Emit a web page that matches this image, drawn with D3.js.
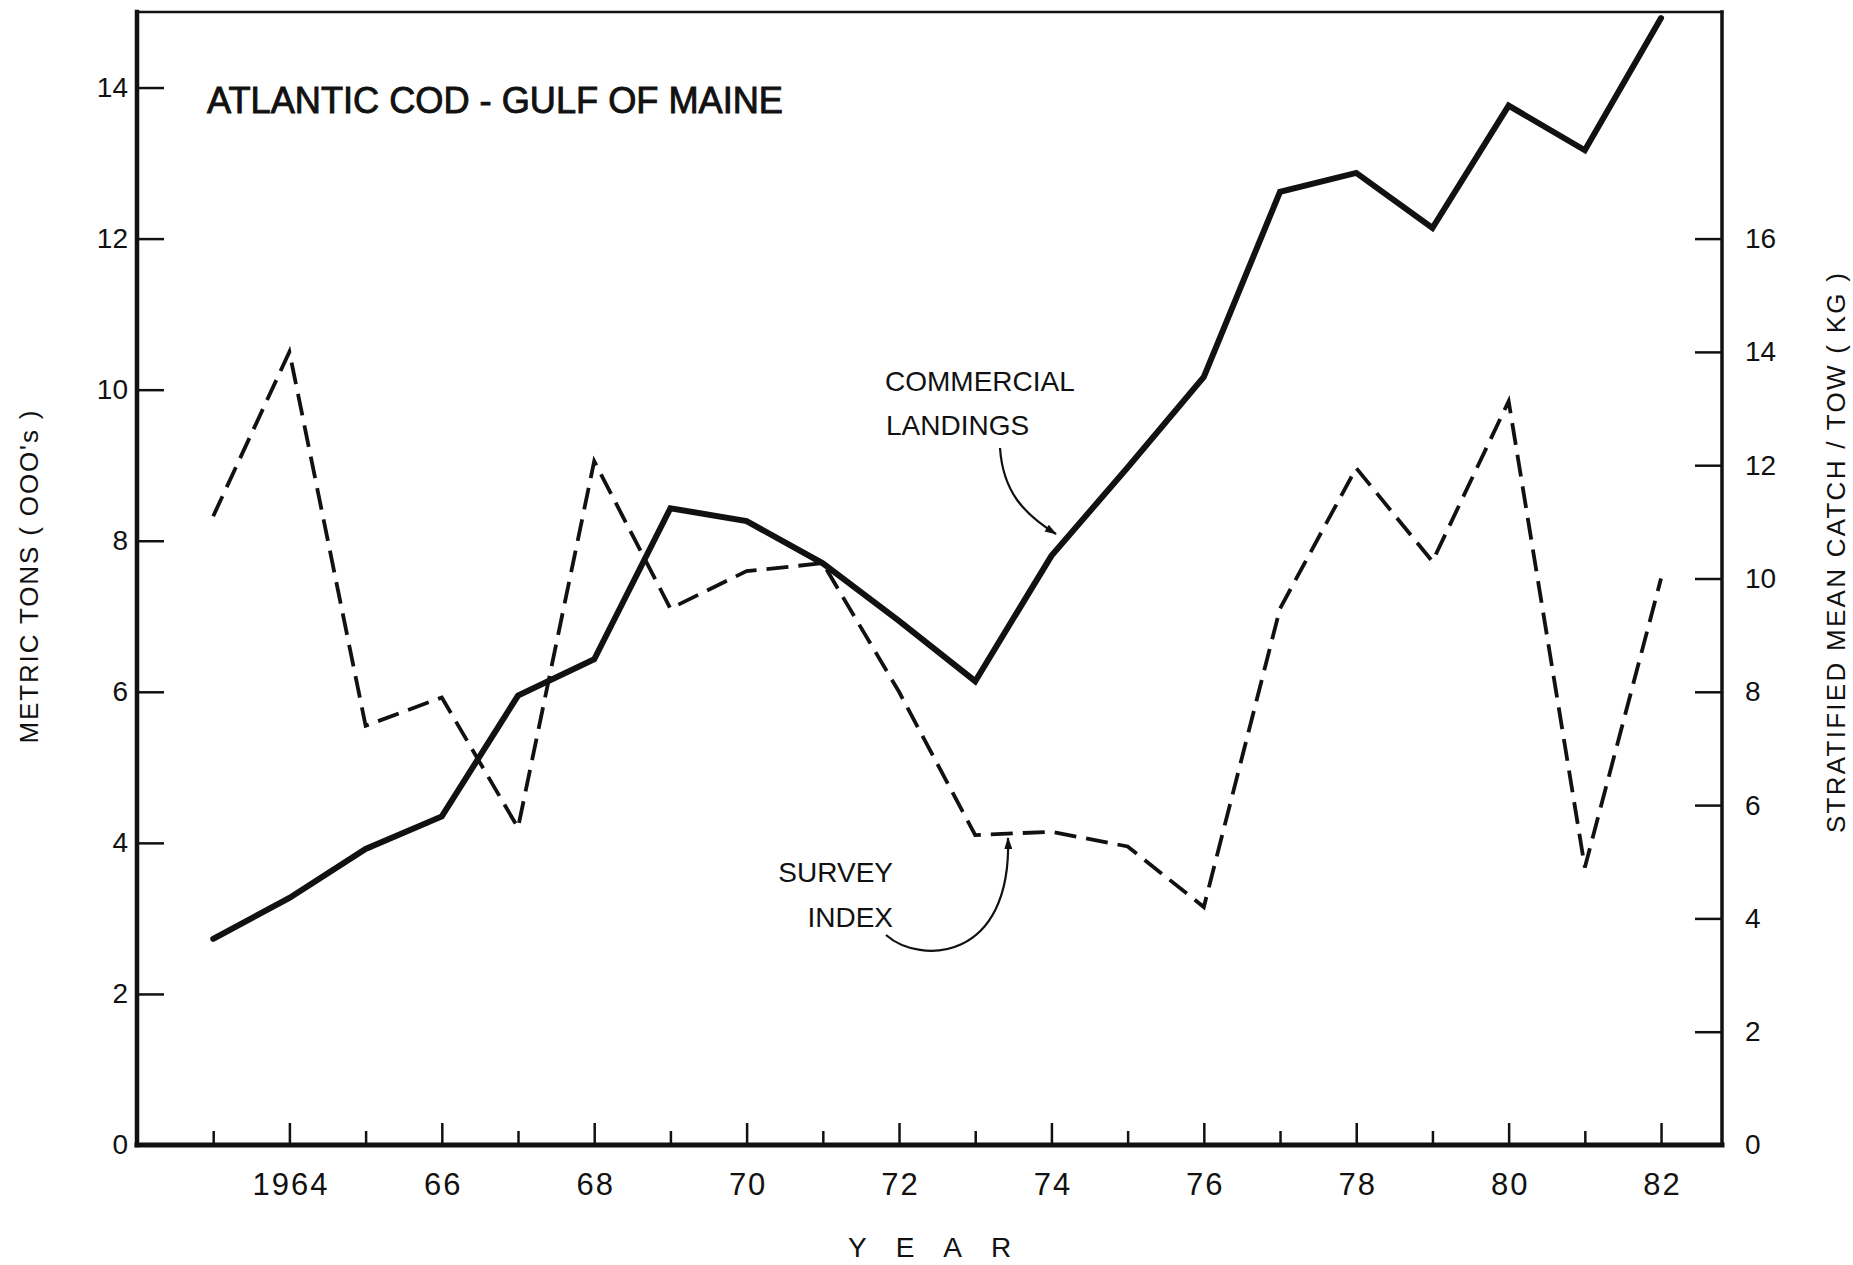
<!DOCTYPE html>
<html><head><meta charset="utf-8">
<script src="https://cdn.jsdelivr.net/npm/d3@7/dist/d3.min.js"></script>
<style>
html,body{margin:0;padding:0;background:#fff;}
svg{display:block;}
text{font-family:"Liberation Sans", Arial, sans-serif; fill:#111;}
</style></head><body>
<svg id="chart" width="1853" height="1265"></svg>
<script>
// ---- data ----
const years    = [1963,1964,1965,1966,1967,1968,1969,1970,1971,1972,1973,1974,1975,1976,1977,1978,1979,1980,1981,1982];
const landings = [2.73,3.27,3.92,4.35,5.95,6.43,8.43,8.26,7.70,6.94,6.14,7.80,8.97,10.17,12.62,12.87,12.14,13.76,13.17,14.92]; // metric tons (000's)
const survey   = [11.1,14.0,7.4,7.9,5.6,12.07,9.47,10.13,10.27,8.0,5.47,5.53,5.27,4.2,9.47,11.95,10.3,13.13,4.9,10.0]; // kg per tow
const leftTicks  = [0,2,4,6,8,10,12,14];
const rightTicks = [0,2,4,6,8,10,12,14,16];
const majorYears = [1964,1966,1968,1970,1972,1974,1976,1978,1980,1982];
const yearLabels = ["1964","66","68","70","72","74","76","78","80","82"];
const minorYears = [1963,1965,1967,1969,1971,1973,1975,1977,1979,1981];

const svg = d3.select("#chart");
const ink = "#111";

const x  = d3.scaleLinear().domain([1962, 1982.8]).range([137, 1722]);
const yL = d3.scaleLinear().domain([0, 15]).range([1145, 12]);
const yR = d3.scaleLinear().domain([0, 20]).range([1145, 12]);

const [x0, x1] = x.range();
const [yb, yt] = yL.range();

// frame
const frame = svg.append("g").attr("stroke", ink).attr("fill", "none").attr("stroke-linecap","square");
frame.append("line").attr("x1", x0).attr("x2", x1).attr("y1", yt).attr("y2", yt).attr("stroke-width", 2.5);
frame.append("line").attr("x1", x0).attr("x2", x0).attr("y1", yt).attr("y2", yb).attr("stroke-width", 4.5);
frame.append("line").attr("x1", x1).attr("x2", x1).attr("y1", yt).attr("y2", yb).attr("stroke-width", 3.5);
frame.append("line").attr("x1", x0).attr("x2", x1).attr("y1", yb).attr("y2", yb).attr("stroke-width", 5);

function styleAxis(g, fs) {
  g.select(".domain").remove();
  g.selectAll(".tick line").attr("stroke", ink).attr("stroke-width", 2.5);
  g.selectAll(".tick text").attr("fill", ink).style("font-size", fs + "px")
    .style("font-family", '"Liberation Sans", Arial, sans-serif');
}

// bottom axis: minor ticks
svg.append("g").attr("transform", `translate(0,${yb})`)
  .call(d3.axisBottom(x).tickValues(minorYears).tickSize(-14).tickFormat(""))
  .call(g => styleAxis(g, 30));
// bottom axis: major ticks + labels
svg.append("g").attr("transform", `translate(0,${yb})`)
  .call(d3.axisBottom(x).tickValues(majorYears).tickSize(-22).tickPadding(28)
        .tickFormat(d => yearLabels[majorYears.indexOf(d)]))
  .call(g => styleAxis(g, 31))
  .call(g => g.selectAll(".tick text").style("letter-spacing", "2px").attr("dx", "1px"));

// left axis
svg.append("g").attr("transform", `translate(${x0},0)`)
  .call(d3.axisLeft(yL).tickValues(leftTicks).tickSize(-27).tickPadding(9))
  .call(g => styleAxis(g, 28));
// right axis
svg.append("g").attr("transform", `translate(${x1},0)`)
  .call(d3.axisRight(yR).tickValues(rightTicks).tickSize(-27).tickPadding(23))
  .call(g => styleAxis(g, 28));

// series
const landData = years.map((yr, i) => ({ yr, v: landings[i] }));
const survData = years.map((yr, i) => ({ yr, v: survey[i] }));

svg.append("path").datum(survData)
  .attr("fill", "none").attr("stroke", ink).attr("stroke-width", 3.8)
  .attr("stroke-dasharray", "22 10").attr("stroke-linejoin", "miter")
  .attr("d", d3.line().x(d => x(d.yr)).y(d => yR(d.v)));

svg.append("path").datum(landData)
  .attr("fill", "none").attr("stroke", ink).attr("stroke-width", 6)
  .attr("stroke-linejoin", "miter").attr("stroke-linecap", "round")
  .attr("d", d3.line().x(d => x(d.yr)).y(d => yL(d.v)));

// markers
const defs = svg.append("defs");
defs.append("marker").attr("id", "ah").attr("viewBox", "0 0 12 8")
  .attr("refX", 11).attr("refY", 4).attr("markerWidth", 13).attr("markerHeight", 8)
  .attr("markerUnits", "userSpaceOnUse").attr("orient", "auto")
  .append("path").attr("d", "M0,0 L12,4 L0,8 Z").attr("fill", ink);

// annotation arrows
svg.append("path").attr("d", "M1000,448 C1003,492 1024,514 1056,534")
  .attr("fill", "none").attr("stroke", ink).attr("stroke-width", 2.2).attr("marker-end", "url(#ah)");
svg.append("path").attr("d", "M886,935 C920,965 1012,962 1008,838")
  .attr("fill", "none").attr("stroke", ink).attr("stroke-width", 2.2).attr("marker-end", "url(#ah)");

// texts
svg.append("text").attr("x", 207).attr("y", 113).attr("font-size", 36)
  .attr("textLength", 576).attr("lengthAdjust", "spacingAndGlyphs")
  .attr("stroke", ink).attr("stroke-width", 0.9)
  .text("ATLANTIC COD - GULF OF MAINE");

svg.append("text").attr("x", 885).attr("y", 391).attr("font-size", 28).text("COMMERCIAL");
svg.append("text").attr("x", 886).attr("y", 435).attr("font-size", 28).text("LANDINGS");
svg.append("text").attr("x", 893).attr("y", 882).attr("font-size", 28).attr("text-anchor", "end").text("SURVEY");
svg.append("text").attr("x", 893).attr("y", 927).attr("font-size", 28).attr("text-anchor", "end").text("INDEX");

svg.append("text").attr("transform", "translate(38,577) rotate(-90)")
  .attr("text-anchor", "middle").attr("font-size", 26)
  .attr("textLength", 333).attr("lengthAdjust", "spacing")
  .text("METRIC TONS ( OOO's )");
svg.append("text").attr("transform", "translate(1845,553) rotate(-90)")
  .attr("text-anchor", "middle").attr("font-size", 26)
  .attr("textLength", 560).attr("lengthAdjust", "spacing")
  .text("STRATIFIED MEAN CATCH / TOW ( KG )");

svg.append("text").attr("x", 848).attr("y", 1257).attr("font-size", 28)
  .style("letter-spacing", "29px").text("YEAR");
</script>
</body></html>
